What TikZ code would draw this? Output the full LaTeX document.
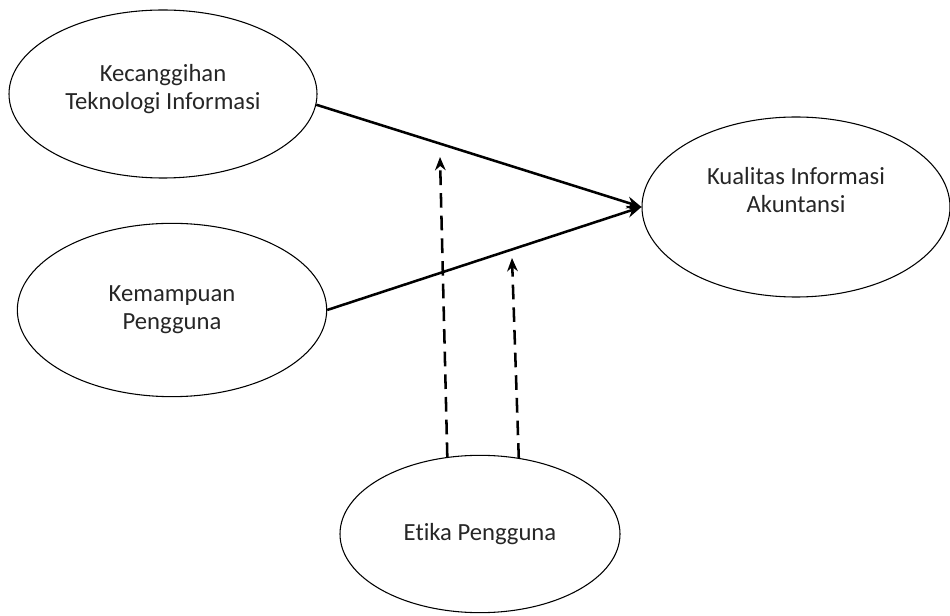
\documentclass[tikz,border=0pt]{standalone}
\usepackage{fontspec}
\setmainfont{Carlito}[Ligatures=NoCommon]
\usetikzlibrary{shapes.geometric,arrows.meta}
\definecolor{vartext}{HTML}{262626}
\tikzset{
  var/.style={draw, ellipse, line width=0.8pt, align=center, inner sep=0pt,
    text=vartext, font=\fontsize{18.5}{21}\selectfont},
  effect/.style={line width=1.9pt, -{Stealth[length=11pt,width=9pt]}},
  moderate/.style={line width=1.9pt, dash pattern=on 11pt off 6pt,
    -{Stealth[length=10pt,width=8pt]}},
}

\begin{document}
\begin{tikzpicture}[x=0.75pt,y=-0.75pt]
  \useasboundingbox (0,0) rectangle (950,616);
  % variables
  \node[var, minimum width=231pt, minimum height=126pt, text depth=11pt] (kti) at (163,94)
    {Kecanggihan\\Teknologi Informasi};
  \node[var, minimum width=232pt, minimum height=130pt] (kem) at (172,310)
    {Kemampuan\\Pengguna};
  \node[var, minimum width=231pt, minimum height=135pt, text depth=26pt] (kia) at (796,207)
    {Kualitas Informasi\\Akuntansi};
  \node[var, minimum width=210pt, minimum height=118pt] (eti) at (480,534)
    {Etika Pengguna};
  % moderating targets
  \coordinate (m1) at (440,157);
  \coordinate (m2) at (512,258);
  % paths
  \draw[effect] (kti.-4) -- (kia.west);
  \draw[effect] (kem.east) -- (kia.west);
  \draw[moderate] (eti.113) -- (m1);
  \draw[moderate] (eti.63) -- (m2);
\end{tikzpicture}
\end{document}
